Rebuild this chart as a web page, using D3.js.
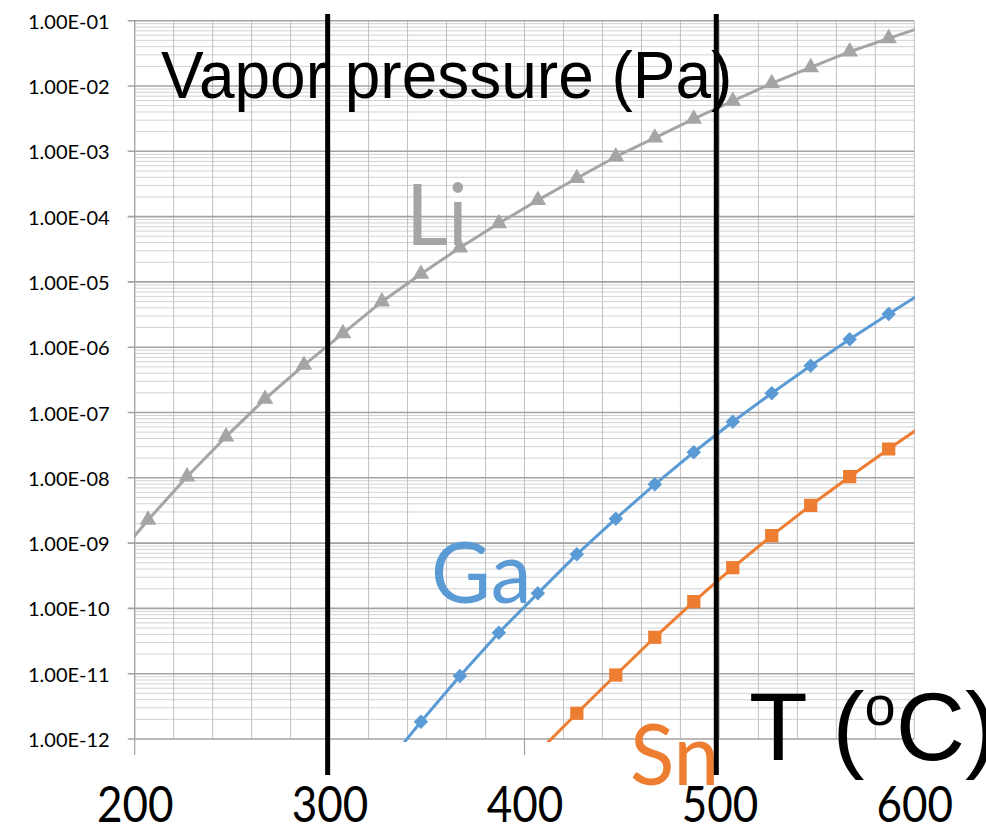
<!DOCTYPE html>
<html>
<head>
<meta charset="utf-8">
<script src="https://cdn.jsdelivr.net/npm/d3@7"></script>
<style>
  html, body { margin: 0; padding: 0; background: #fff; }
  svg { display: block; }
</style>
</head>
<body>
<svg id="chart" width="986" height="827"></svg>
<script>
// ---------------- DATA ----------------
const liTemps = [186.85, 206.85, 226.85, 246.85, 266.85, 286.85, 306.85, 326.85, 346.85, 366.85, 386.85,
                 406.85, 426.85, 446.85, 466.85, 486.85, 506.85, 526.85, 546.85, 566.85, 586.85, 606.85];
const liPressure = [4.4e-10, 2.26e-9, 1.04e-8, 4.26e-8, 1.61e-7, 5.33e-7, 1.63e-6, 4.98e-6, 1.32e-5, 3.34e-5, 7.89e-5,
                    1.79e-4, 3.86e-4, 8.26e-4, 1.61e-3, 3.13e-3, 5.89e-3, 1.10e-2, 1.93e-2, 3.35e-2, 5.37e-2, 8.5e-2];

const gaTemps = [326.85, 346.85, 366.85, 386.85, 406.85, 426.85, 446.85, 466.85, 486.85, 506.85,
                 526.85, 546.85, 566.85, 586.85, 606.85];
const gaPressure = [3.35e-13, 1.84e-12, 9.2e-12, 4.25e-11, 1.70e-10, 6.73e-10, 2.37e-9, 7.94e-9, 2.46e-8, 7.23e-8,
                    1.97e-7, 5.21e-7, 1.32e-6, 3.22e-6, 7.76e-6];

const snTemps = [406.85, 426.85, 446.85, 466.85, 486.85, 506.85, 526.85, 546.85, 566.85, 586.85, 606.85];
const snPressure = [6.22e-13, 2.48e-12, 9.55e-12, 3.61e-11, 1.27e-10, 4.20e-10, 1.30e-9, 3.79e-9, 1.04e-8, 2.76e-8, 7.10e-8];

const xTickValues = [200, 300, 400, 500, 600];
const xTickLabels = ["200", "300", "400", "500", "600"];
const xTickMarks = [200, 400];
const yTickValues = [1e-1, 1e-2, 1e-3, 1e-4, 1e-5, 1e-6, 1e-7, 1e-8, 1e-9, 1e-10, 1e-11, 1e-12];
const yTickLabels = ["1.00E-01", "1.00E-02", "1.00E-03", "1.00E-04", "1.00E-05", "1.00E-06",
                     "1.00E-07", "1.00E-08", "1.00E-09", "1.00E-10", "1.00E-11", "1.00E-12"];
const refLineTemps = [299, 498.4];
const seriesNames = ["Li", "Ga", "Sn"];

// ---------------- LAYOUT ----------------
const svg = d3.select("#chart");
const L = 134.7, R = 914.3, T = 20.7, B = 739;
const x = d3.scaleLinear().domain([200, 600]).range([L, R]);
const y = d3.scaleLog().domain([1e-12, 1e-1]).range([B, T]);

svg.append("rect").attr("width", 986).attr("height", 827).attr("fill", "#fff");

svg.append("defs").append("clipPath").attr("id", "plotclip")
  .append("rect").attr("x", L).attr("y", T - 10).attr("width", R - L + 0.5).attr("height", B - T + 13);

// minor horizontal gridlines
const minorVals = [];
for (let e = -12; e < -1; e++) for (let m = 2; m <= 9; m++) minorVals.push(m * Math.pow(10, e));
const grid = svg.append("g");
grid.selectAll("line.minor").data(minorVals).join("line")
  .attr("x1", L).attr("x2", R).attr("y1", d => y(d)).attr("y2", d => y(d))
  .attr("stroke", "#d2d2d2").attr("stroke-width", 1);

// vertical gridlines
grid.selectAll("line.v").data(d3.range(200, 601, 20)).join("line")
  .attr("x1", d => x(d)).attr("x2", d => x(d)).attr("y1", T).attr("y2", B)
  .attr("stroke", "#c0c0c0").attr("stroke-width", 1);

// major horizontal gridlines
grid.selectAll("line.major").data(yTickValues).join("line")
  .attr("x1", L - 7).attr("x2", R).attr("y1", d => y(d)).attr("y2", d => y(d))
  .attr("stroke", "#a3a3a3").attr("stroke-width", 1.6);

// axis lines & ticks
grid.append("line").attr("x1", L).attr("x2", L).attr("y1", T).attr("y2", B)
  .attr("stroke", "#a3a3a3").attr("stroke-width", 1.2);
grid.selectAll("line.xt").data(xTickMarks).join("line")
  .attr("x1", d => x(d)).attr("x2", d => x(d)).attr("y1", B).attr("y2", B + 16)
  .attr("stroke", "#a3a3a3").attr("stroke-width", 1.2);

// y axis labels
const yAxis = d3.axisLeft(y).tickValues(yTickValues)
  .tickFormat((d, i) => yTickLabels[i]).tickSize(0).tickPadding(0);
const gy = svg.append("g").attr("transform", `translate(${L - 25},0)`).call(yAxis);
gy.select(".domain").remove();
gy.selectAll("text").attr("x", 0).attr("dy", 7.5)
  .attr("font-family", "Lato, 'Open Sans', sans-serif").attr("font-size", 20).attr("fill", "#000");

// x axis labels
const xAxis = d3.axisBottom(x).tickValues(xTickValues)
  .tickFormat((d, i) => xTickLabels[i]).tickSize(0);
const gx = svg.append("g").attr("transform", `translate(0,${B})`).call(xAxis);
gx.select(".domain").remove();
gx.selectAll("text").attr("y", 0).attr("dy", 0)
  .attr("transform", `translate(0,${822 - B}) scale(1,1.13)`)
  .attr("font-family", "Lato, 'Open Sans', sans-serif").attr("font-size", 44).attr("fill", "#000");

// series
const series = [
  { name: "Li", temps: liTemps, vals: liPressure, color: "#a5a5a5", sym: d3.symbolTriangle, size: 120, rot: 0 },
  { name: "Ga", temps: gaTemps, vals: gaPressure, color: "#5b9bd5", sym: d3.symbolSquare, size: 105, rot: 45 },
  { name: "Sn", temps: snTemps, vals: snPressure, color: "#ed7d31", sym: d3.symbolSquare, size: 175, rot: 0 }
];
const line = d3.line().x(d => x(d[0])).y(d => y(d[1]));
const plot = svg.append("g").attr("clip-path", "url(#plotclip)");
series.forEach(s => {
  const pts = s.temps.map((t, i) => [t, s.vals[i]]);
  plot.append("path").datum(pts).attr("d", line)
    .attr("fill", "none").attr("stroke", s.color).attr("stroke-width", 3).attr("stroke-linejoin", "round");
  plot.selectAll(null).data(pts).join("path")
    .attr("d", d3.symbol().type(s.sym).size(s.size))
    .attr("transform", d => `translate(${x(d[0])},${y(d[1])}) rotate(${s.rot})`)
    .attr("fill", s.color);
});

// series labels
const labelFont = "Lato, 'Open Sans', sans-serif";
const labelPos = { Li: [406, 245], Ga: [431, 603], Sn: [630, 785] };
series.forEach(s => {
  svg.append("text").attr("transform", `translate(${labelPos[s.name][0]},${labelPos[s.name][1]}) scale(1,1.03)`)
    .attr("font-family", labelFont).attr("font-size", 82).attr("fill", s.color).text(s.name);
});

// title texts
svg.append("text").attr("transform", "translate(161,98) scale(1,1.05)")
  .attr("font-family", "'Liberation Sans', Arial, sans-serif").attr("font-size", 64).attr("fill", "#000")
  .text("Vapor pressure (Pa)");

const tText = svg.append("text").attr("x", 749).attr("y", 760)
  .attr("font-family", "'Liberation Sans', Arial, sans-serif").attr("font-size", 96).attr("fill", "#000");
tText.append("tspan").text("T (");
tText.append("tspan").attr("font-size", 56).attr("dy", -35).text("o");
tText.append("tspan").attr("font-size", 96).attr("dy", 35).text("C)");

// reference vertical lines
svg.selectAll("line.ref").data(refLineTemps).join("line")
  .attr("x1", d => x(d)).attr("x2", d => x(d)).attr("y1", 14).attr("y2", 775)
  .attr("stroke", "#000").attr("stroke-width", 5);
</script>
</body>
</html>
